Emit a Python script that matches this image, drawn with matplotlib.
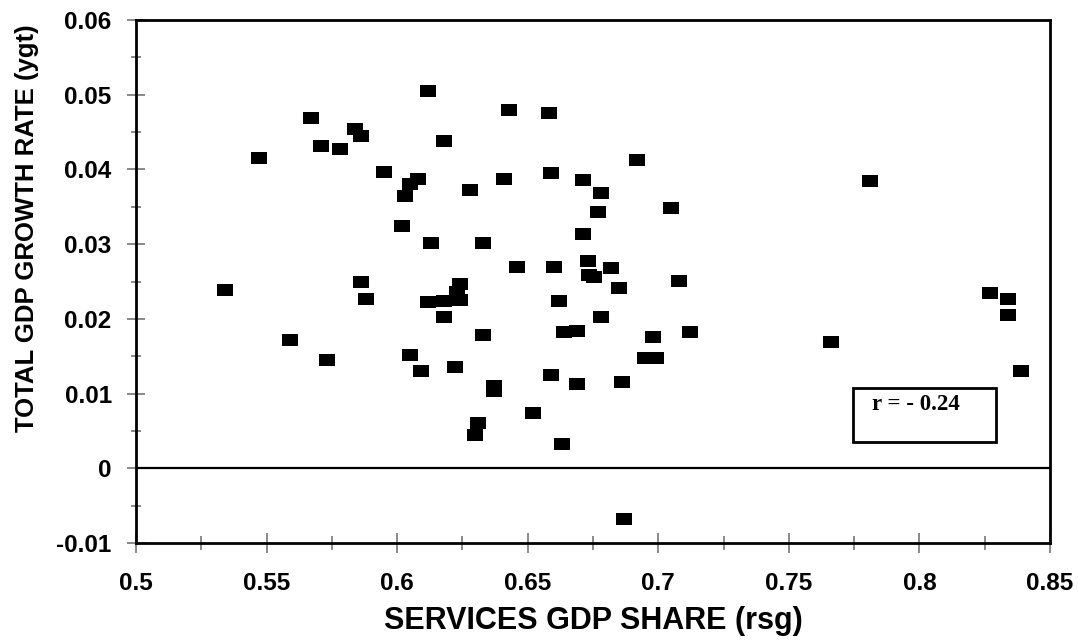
import matplotlib
matplotlib.use("Agg")
import matplotlib.pyplot as plt
from matplotlib.patches import Rectangle

# services GDP share (rsg) and total GDP growth rate (ygt)
rsg = [0.534, 0.547, 0.559, 0.567, 0.571, 0.573, 0.578, 0.584, 0.586, 0.586,
       0.588, 0.595, 0.602, 0.603, 0.605, 0.608, 0.605, 0.609, 0.612, 0.613,
       0.612, 0.618, 0.618, 0.618, 0.622, 0.624, 0.623, 0.624, 0.628, 0.631,
       0.630, 0.633, 0.633, 0.637, 0.637, 0.641, 0.643, 0.646, 0.652, 0.658,
       0.659, 0.660, 0.662, 0.664, 0.669, 0.659, 0.663, 0.669, 0.671, 0.671,
       0.673, 0.6735, 0.6755, 0.677, 0.678, 0.678, 0.682, 0.685, 0.686, 0.687,
       0.692, 0.695, 0.699, 0.698, 0.705, 0.708, 0.712, 0.766, 0.781, 0.827,
       0.834, 0.834, 0.839]
ygt = [0.0239, 0.0415, 0.0172, 0.0469, 0.0431, 0.0145, 0.0428, 0.0454, 0.0445, 0.0249,
       0.0226, 0.0396, 0.0324, 0.0365, 0.0380, 0.0387, 0.0152, 0.0130, 0.0505, 0.0301,
       0.0223, 0.0438, 0.0224, 0.0202, 0.0136, 0.0246, 0.0236, 0.0225, 0.0372, 0.0061,
       0.0045, 0.0301, 0.0178, 0.0110, 0.0103, 0.0387, 0.0480, 0.0270, 0.0074, 0.0475,
       0.0395, 0.0270, 0.0224, 0.0183, 0.0184, 0.0125, 0.0033, 0.0113, 0.0386, 0.0314,
       0.0277, 0.0259, 0.0256, 0.0343, 0.0368, 0.0202, 0.0268, 0.0241, 0.0115, -0.0068,
       0.0412, 0.0147, 0.0148, 0.0176, 0.0349, 0.0251, 0.0182, 0.0169, 0.0384, 0.0235,
       0.0227, 0.0205, 0.0130]

x_ticks = [0.5, 0.55, 0.6, 0.65, 0.7, 0.75, 0.8, 0.85]
x_labels = ['0.5', '0.55', '0.6', '0.65', '0.7', '0.75', '0.8', '0.85']
y_ticks = [-0.01, 0, 0.01, 0.02, 0.03, 0.04, 0.05, 0.06]
y_labels = ['-0.01', '0', '0.01', '0.02', '0.03', '0.04', '0.05', '0.06']
r_text = 'r = - 0.24'

plt.rcParams['font.family'] = ['Liberation Sans', 'DejaVu Sans']
plt.rcParams['font.weight'] = 'bold'

fig = plt.figure(figsize=(10.78, 6.41), dpi=100)
ax = fig.add_axes([136 / 1078, 98 / 641, 914 / 1078, 523 / 641])

# wide rectangular marker, like the Excel one
rect_marker = [(-1, -0.75), (1, -0.75), (1, 0.75), (-1, 0.75), (-1, -0.75)]
ax.plot(rsg, ygt, linestyle='none', marker=rect_marker, markersize=11.2,
        markerfacecolor='black', markeredgewidth=0, zorder=3)

ax.axhline(0, color='black', linewidth=1.6, zorder=2)

ax.set_xlim(0.5, 0.85)
ax.set_ylim(-0.01, 0.06)
ax.set_xticks(x_ticks)
ax.set_xticklabels(x_labels)
ax.set_yticks(y_ticks)
ax.set_yticklabels(y_labels)
ax.set_xticks([0.525 + 0.05 * i for i in range(7)], minor=True)
ax.set_yticks([-0.005 + 0.01 * i for i in range(7)], minor=True)

ax.tick_params(axis='x', which='major', direction='inout', length=14.4, width=1.3,
               color='#808080', labelsize=17.5, pad=14)
ax.tick_params(axis='x', which='minor', direction='inout', length=10, width=1.3,
               color='#808080')
ax.tick_params(axis='y', which='major', direction='inout', length=13, width=1.3,
               color='#808080', labelsize=17.5, pad=11)
ax.tick_params(axis='y', which='minor', direction='inout', length=6.5, width=1.3,
               color='#808080')

for s in ax.spines.values():
    s.set_linewidth(2)
    s.set_color('black')

ax.set_xlabel('SERVICES GDP SHARE (rsg)', fontsize=22, fontweight='bold', va='center')
ax.xaxis.set_label_coords(0.5, -0.149)
ax.set_ylabel('TOTAL GDP GROWTH RATE (ygt)', fontsize=18.5, fontweight='bold',
              va='center', ha='center')
ax.yaxis.set_label_coords(-0.119, 0.602)

# correlation box
ax.add_patch(Rectangle((0.7841, 0.1937), 0.9409 - 0.7841, 0.2958 - 0.1937,
                       transform=ax.transAxes, fill=False, edgecolor='black',
                       linewidth=2, zorder=4))
ax.text(0.8056, 0.2639, r_text, transform=ax.transAxes, fontsize=16.5,
        fontweight='bold', family='Liberation Serif', va='center', ha='left', zorder=5)

fig.savefig('out.png', dpi=100)
